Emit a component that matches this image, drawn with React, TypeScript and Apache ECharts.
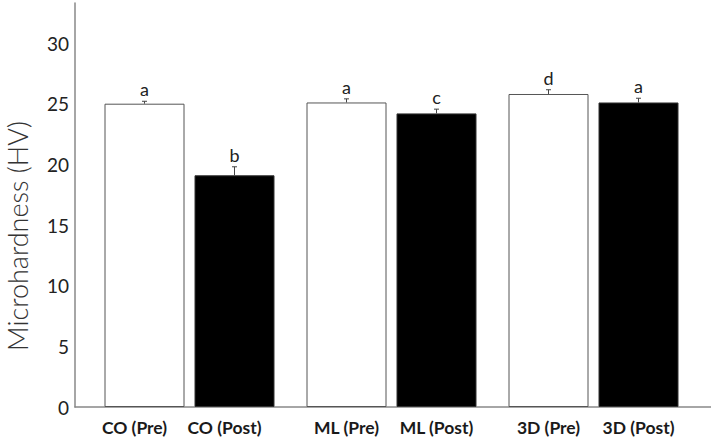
import React, { useEffect, useRef } from "react";
import * as echarts from "echarts";

const categories = ["CO", "ML", "3D"];
const preValues = [25.0, 25.1, 25.8];
const preErrors = [0.2, 0.3, 0.35];
const preLetters = ["a", "a", "d"];
const postValues = [19.1, 24.2, 25.1];
const postErrors = [0.7, 0.35, 0.35];
const postLetters = ["b", "c", "a"];
const yTicks = [0, 5, 10, 15, 20, 25, 30];

const BAR_W = 80;
const BAR_GAP = 10;
const FONT = "Lato, 'Noto Sans', sans-serif";

function errSeries(values: number[], errs: number[], letters: string[], shift: number) {
  return {
    type: "custom",
    xAxisIndex: 0,
    yAxisIndex: 0,
    z: 5,
    data: values.map((v, i) => [i, v, errs[i]]),
    renderItem: (params: any, api: any) => {
      const idx = api.value(0);
      const v = api.value(1);
      const e = api.value(2);
      const letter = letters[params.dataIndex];
      const base = api.coord([idx, v]);
      const top = api.coord([idx, v + e]);
      const x = base[0] + shift;
      return {
        type: "group",
        children: [
          { type: "line", shape: { x1: x, y1: base[1], x2: x, y2: top[1] }, style: { stroke: "#444", lineWidth: 1 } },
          { type: "line", shape: { x1: x - 2.5, y1: top[1], x2: x + 2.5, y2: top[1] }, style: { stroke: "#444", lineWidth: 1 } },
          {
            type: "text",
            x: x,
            y: top[1] - 3,
            style: { text: letter, fill: "#222", font: `18px ${FONT}`, textAlign: "center", textVerticalAlign: "bottom" },
          },
        ],
      };
    },
  };
}

export default function App() {
  const ref = useRef<HTMLDivElement>(null);
  useEffect(() => {
    if (!ref.current) return;
    const chart = echarts.init(ref.current, null, { renderer: "svg" });
    const shift = (BAR_W + BAR_GAP) / 2;
    const lbl = { width: 90, align: "center", fontFamily: FONT, fontWeight: "bold", fontSize: 17.5, color: "#1a1a1a" };
    chart.setOption({
      animation: false,
      backgroundColor: "#ffffff",
      grid: [
        { left: 88.5, right: 16.5, top: 3, bottom: 34 },
        { left: 75, right: 0, top: 3, bottom: 34 },
      ],
      xAxis: [
        {
          type: "category",
          gridIndex: 0,
          data: categories,
          axisLine: { show: false },
          axisTick: { show: false },
          axisLabel: {
            margin: 11,
            formatter: (v: string, i: number) =>
              i === 0 ? `{l|${v} (Pre)}{r|${v} (Post)}{p|}` : `{l|${v} (Pre)}{r|${v} (Post)}`,
            rich: { l: lbl, r: lbl, p: { width: 20 } },
          },
        },
        {
          type: "value",
          gridIndex: 1,
          axisLine: { show: true, onZero: false, lineStyle: { color: "#888", width: 1.5 } },
          axisTick: { show: false },
          axisLabel: { show: false },
          splitLine: { show: false },
        },
      ],
      yAxis: [
        {
          type: "value",
          gridIndex: 0,
          min: 0,
          max: 33.3,
          interval: 5,
          offset: 13.5,
          axisLine: { show: true, lineStyle: { color: "#888", width: 1.5 } },
          axisTick: { show: false },
          splitLine: { show: false },
          axisLabel: {
            margin: 6,
            showMaxLabel: false,
            fontFamily: FONT,
            fontSize: 19,
            color: "#222",
            formatter: (v: number) => (yTicks.includes(v) ? String(v) : ""),
          },
        },
        { type: "value", gridIndex: 1, show: false },
      ],
      graphic: [
        {
          type: "text",
          x: 17,
          y: 236,
          rotation: Math.PI / 2,
          style: {
            text: "Microhardness (HV)",
            font: `300 27px ${FONT}`,
            fill: "#333",
            textAlign: "center",
            textVerticalAlign: "middle",
          },
        },
      ],
      series: [
        {
          type: "bar",
          name: "Pre",
          data: preValues,
          barWidth: BAR_W,
          barGap: `${(BAR_GAP / BAR_W) * 100}%`,
          itemStyle: { color: "#ffffff", borderColor: "#555", borderWidth: 1 },
        },
        {
          type: "bar",
          name: "Post",
          data: postValues,
          barWidth: BAR_W,
          barGap: `${(BAR_GAP / BAR_W) * 100}%`,
          itemStyle: { color: "#000000", borderColor: "#333", borderWidth: 1 },
        },
        errSeries(preValues, preErrors, preLetters, -shift),
        errSeries(postValues, postErrors, postLetters, shift),
      ],
    });
    return () => chart.dispose();
  }, []);
  return <div ref={ref} style={{ width: 711, height: 441, position: "fixed", left: 0, top: 0 }} />;
}
